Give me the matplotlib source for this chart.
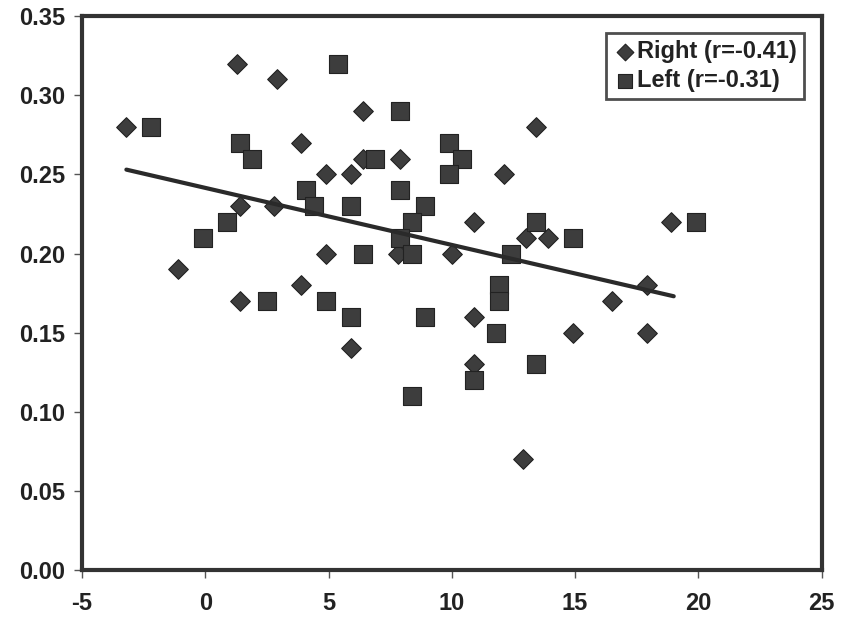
import matplotlib
matplotlib.use("Agg")
import matplotlib.pyplot as plt

plt.rcParams['font.family'] = ['Liberation Sans', 'DejaVu Sans']
plt.rcParams['font.weight'] = 'bold'

# Right (diamonds)
right_x = [-3.2, -1.1, 1.3, 1.4, 1.4, 2.9, 2.8, 3.9, 3.9, 4.9, 4.9, 5.9, 5.9, 6.4, 6.4,
           7.9, 7.8, 10.0, 10.9, 12.1, 13.4, 13.0, 13.9, 18.9, 17.9, 16.5, 10.9, 14.9,
           17.9, 10.9, 12.9]
right_y = [0.28, 0.19, 0.32, 0.23, 0.17, 0.31, 0.23, 0.27, 0.18, 0.25, 0.20, 0.14, 0.25,
           0.29, 0.26, 0.26, 0.20, 0.20, 0.22, 0.25, 0.28, 0.21, 0.21, 0.22, 0.18, 0.17,
           0.16, 0.15, 0.15, 0.13, 0.07]

# Left (squares)
left_x = [-2.2, 1.4, 1.9, 5.4, 7.9, 6.9, 9.9, 10.4, 9.9, 7.9, 4.1, 4.4, 5.9, 8.9, 8.4,
          7.9, 8.4, 6.4, 0.9, -0.1, 2.5, 4.9, 5.9, 8.9, 8.4, 13.4, 14.9, 19.9, 12.4,
          11.9, 11.9, 11.8, 13.4, 10.9]
left_y = [0.28, 0.27, 0.26, 0.32, 0.29, 0.26, 0.27, 0.26, 0.25, 0.24, 0.24, 0.23, 0.23,
          0.23, 0.22, 0.21, 0.20, 0.20, 0.22, 0.21, 0.17, 0.17, 0.16, 0.16, 0.11, 0.22,
          0.21, 0.22, 0.20, 0.18, 0.17, 0.15, 0.13, 0.12]

# Trend line endpoints
trend_x = [-3.2, 19.0]
trend_y = [0.253, 0.173]

x_ticks = [-5, 0, 5, 10, 15, 20, 25]
y_ticks = [0.00, 0.05, 0.10, 0.15, 0.20, 0.25, 0.30, 0.35]

fig = plt.figure(figsize=(8.41, 6.19), dpi=100)
ax = fig.add_axes([0.0975, 0.079, 0.8795, 0.895])

face = '#3d3d3d'
ax.scatter(right_x, right_y, marker='D', s=100, color=face, edgecolors='#222222',
           linewidths=0.8, label='Right (r=-0.41)', zorder=3)
ax.scatter(left_x, left_y, marker='s', s=160, color=face, edgecolors='#222222',
           linewidths=0.8, label='Left (r=-0.31)', zorder=3)
ax.plot(trend_x, trend_y, color='#2a2a2a', linewidth=3, solid_capstyle='round', zorder=4)

ax.set_xlim(-5, 25)
ax.set_ylim(0, 0.35)
ax.set_xticks(x_ticks)
ax.set_yticks(y_ticks)
ax.set_xticklabels([str(t) for t in x_ticks])
ax.set_yticklabels([f"{t:.2f}" for t in y_ticks])
ax.tick_params(axis='both', labelsize=17, length=6, width=1, color='#555555', pad=6)
ax.tick_params(axis='x', pad=10)
for lbl in ax.get_xticklabels() + ax.get_yticklabels():
    lbl.set_fontweight('bold')
    lbl.set_color('#222222')

for sp in ax.spines.values():
    sp.set_linewidth(3)
    sp.set_color('#333333')

leg = ax.legend(loc='upper right', bbox_to_anchor=(0.982, 0.978),
                prop={'weight': 'bold', 'size': 17}, frameon=True, fancybox=False,
                handletextpad=0.0, borderpad=0.3, labelspacing=0.25, handlelength=1.0,
                borderaxespad=0.2, scatterpoints=1, markerscale=0.85)
leg.get_frame().set_edgecolor('#222222')
leg.get_frame().set_linewidth(2)
for t in leg.get_texts():
    t.set_color('#222222')

fig.savefig('out.png', dpi=100)
